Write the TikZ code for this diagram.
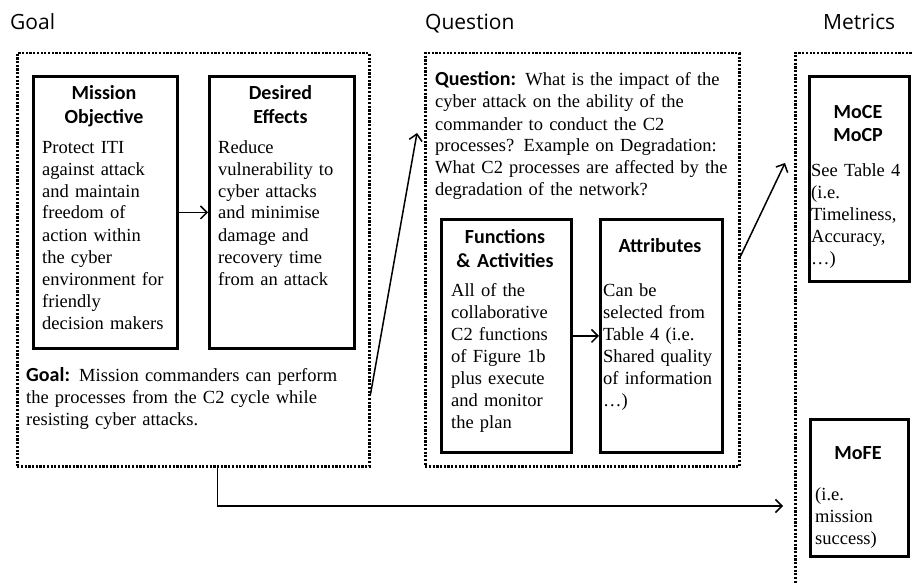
\documentclass[tikz,border=0pt]{standalone}
\usepackage{fontspec}
\setmainfont{Liberation Serif}
\newfontfamily\headfont{Carlito}
\newfontfamily\titlefont{Open Sans}
\usetikzlibrary{arrows.meta}

\tikzset{
  dotbox/.style={draw, line width=2.5pt, dash pattern=on 2.2pt off 1.5pt,
    inner sep=0pt, anchor=north west},
  solidbox/.style={draw, line width=2.8pt, inner sep=0pt, anchor=north west},
  gqmtitle/.style={font=\titlefont\fontsize{21}{25}\selectfont,
    anchor=base west, inner sep=0pt},
  boxhead/.style={font=\headfont\bfseries\fontsize{20}{24}\selectfont,
    anchor=base, inner sep=0pt, align=center, text width=#1},
  bodytext/.style={font=\fontsize{18.5}{22}\selectfont,
    anchor=base west, inner sep=0pt, align=left, text width=#1},
  conn/.style={line width=1.5pt, -{Straight Barb[length=6.5pt,width=13pt]}},
}
\newcommand{\inlinehead}[1]{{\headfont\bfseries\fontsize{20}{22}\selectfont #1}}

\begin{document}
\begin{tikzpicture}[x=1pt,y=-1pt]
  \useasboundingbox (0,0) rectangle (912,583);

  % column titles
  \node[gqmtitle] (tgoal) at (10,30) {Goal};
  \node[gqmtitle] (tquestion) at (425,30) {Question};
  \node[gqmtitle] (tmetrics) at (823,30) {Metrics};

  % dotted frames
  \node[dotbox, minimum width=352pt, minimum height=413pt] (goalbox) at (16,52) {};
  \node[dotbox, minimum width=314pt, minimum height=413pt] (qbox) at (424,52) {};
  \node[dotbox, minimum width=200pt, minimum height=560pt] (mbox) at (794,52) {};

  % Goal column
  \node[solidbox, minimum width=144pt, minimum height=272pt] (mission) at (32,75) {};
  \node[solidbox, minimum width=145pt, minimum height=272pt] (desired) at (208,75) {};
  \node[boxhead=140pt] (missionhead) at (104,100) {Mission\\Objective};
  \node[boxhead=140pt] (desiredhead) at (280.5,100) {Desired\\Effects};
  \node[bodytext=140pt] (missiontext) at (42,153)
    {Protect ITI\\against attack\\and maintain\\freedom of\\action within\\the cyber\\environment for\\friendly\\decision makers};
  \node[bodytext=140pt] (desiredtext) at (218,153)
    {Reduce\\vulnerability to\\cyber attacks\\and minimise\\damage and\\recovery time\\from an attack};
  \node[bodytext=340pt] (goaltext) at (26,381)
    {\inlinehead{Goal:} Mission commanders can perform\\the processes from the C2 cycle while\\resisting cyber attacks.};

  % Question column
  \node[bodytext=300pt] (qtext) at (435,86)
    {\inlinehead{Question:} What is the impact of the\\cyber attack on the ability of the\\commander to conduct the C2\\processes? Example on Degradation:\\What C2 processes are affected by the\\degradation of the network?};
  \node[solidbox, minimum width=130pt, minimum height=233pt] (functions) at (440,218) {};
  \node[solidbox, minimum width=122pt, minimum height=233pt] (attributes) at (599,218) {};
  \node[boxhead=128pt] (functionshead) at (505,243) {Functions\\\& Activities};
  \node[boxhead=120pt] (attributeshead) at (660,252) {Attributes};
  \node[bodytext=125pt] (functionstext) at (451,296)
    {All of the\\collaborative\\C2 functions\\of Figure 1b\\plus execute\\and monitor\\the plan};
  \node[bodytext=118pt] (attributestext) at (603,296)
    {Can be\\selected from\\Table 4 (i.e.\\Shared quality\\of information\\…)};

  % Metrics column
  \node[solidbox, minimum width=100pt, minimum height=205pt] (moce) at (808,75) {};
  \node[solidbox, minimum width=98pt, minimum height=137pt] (mofe) at (809,418) {};
  \node[boxhead=96pt] (mocehead) at (858,118) {MoCE\\MoCP};
  \node[bodytext=96pt] (mocetext) at (811,176)
    {See Table 4\\(i.e.\\Timeliness,\\Accuracy,\\…)};
  \node[boxhead=96pt] (mofehead) at (858,459) {MoFE};
  \node[bodytext=90pt] (mofetext) at (815,500)
    {(i.e.\\mission\\success)};

  % free ends of the connectors
  \coordinate (qin) at (417,133);
  \coordinate (min) at (785,163);
  \coordinate (fein) at (783,506);

  % connectors
  \draw[conn] (mission.east) -- (desired.west);
  \draw[conn] (functions.east) -- (attributes.west);
  \draw[conn] ([yshift=-134.5pt]goalbox.east) -- (qin);
  \draw[conn] ([yshift=3.5pt]qbox.east) -- (min);
  \draw[conn] ([xshift=24pt]goalbox.south) |- (fein);
\end{tikzpicture}
\end{document}
